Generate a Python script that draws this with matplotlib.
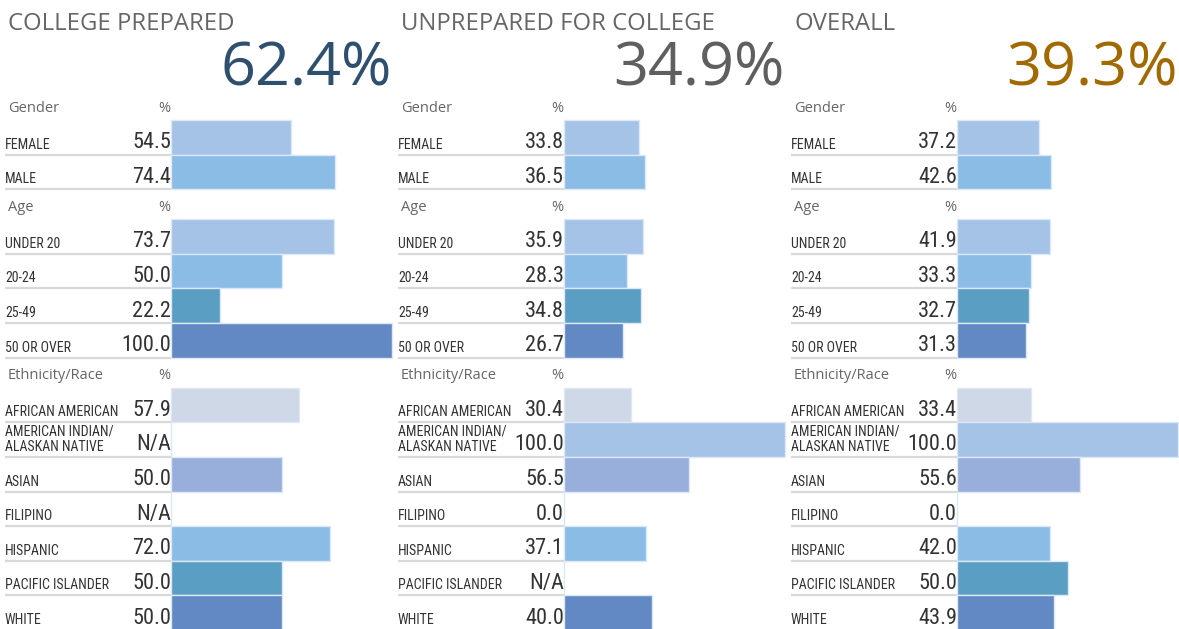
import matplotlib
matplotlib.use('Agg')
import matplotlib.pyplot as plt
from matplotlib import font_manager
from matplotlib.font_manager import FontProperties

W, H = 1179, 629
DPI = 100

# ---- data ----
panel_titles = ['COLLEGE PREPARED', 'UNPREPARED FOR COLLEGE', 'OVERALL']
panel_totals = ['62.4%', '34.9%', '39.3%']
total_colors = ['#2F4F6F', '#5F5F5F', '#A06A00']

gender_labels = ['FEMALE', 'MALE']
age_labels = ['UNDER 20', '20-24', '25-49', '50 OR OVER']
eth_labels = ['AFRICAN AMERICAN', 'AMERICAN INDIAN/\nALASKAN NATIVE', 'ASIAN',
              'FILIPINO', 'HISPANIC', 'PACIFIC ISLANDER', 'WHITE']

# None = N/A
prepared_gender = [54.5, 74.4]
prepared_age = [73.7, 50.0, 22.2, 100.0]
prepared_eth = [57.9, None, 50.0, None, 72.0, 50.0, 50.0]

unprepared_gender = [33.8, 36.5]
unprepared_age = [35.9, 28.3, 34.8, 26.7]
unprepared_eth = [30.4, 100.0, 56.5, 0.0, 37.1, None, 40.0]

overall_gender = [37.2, 42.6]
overall_age = [41.9, 33.3, 32.7, 31.3]
overall_eth = [33.4, 100.0, 55.6, 0.0, 42.0, 50.0, 43.9]

gender_colors = ['#A4C3E6', '#8BBCE5']
age_colors = ['#A4C3E6', '#8BBCE5', '#5B9EC3', '#6389C5']
eth_colors = ['#CFD8E6', '#A4C3E6', '#97AFDA', '#A4C3E6', '#8BBCE5', '#5B9EC3', '#6389C5']

panels = [
    (prepared_gender, prepared_age, prepared_eth),
    (unprepared_gender, unprepared_age, unprepared_eth),
    (overall_gender, overall_age, overall_eth),
]

# ---- fonts: look for a condensed sans for the row labels ----
def find_narrow():
    cond = ('condensed', 'semi-condensed', 'extra-condensed', 'ultra-condensed')
    prefs = ['Liberation Sans Narrow', 'Roboto Condensed', 'Open Sans Condensed',
             'Noto Sans', 'DejaVu Sans', 'Roboto', 'Open Sans']
    fonts = font_manager.fontManager.ttflist
    for name in prefs:
        for f in fonts:
            if f.style != 'normal' or f.weight not in (400, 'normal', 'regular'):
                continue
            if f.name == name and ('Narrow' in name or 'Condensed' in name):
                return FontProperties(fname=f.fname), True
            if f.name.startswith(name) and (f.stretch in cond or 'Condensed' in f.name
                                            or 'Condensed' in f.fname):
                if 'Bold' in f.fname or 'Light' in f.fname or 'Medium' in f.fname \
                        or 'Semi' in f.fname or 'Thin' in f.fname or 'Black' in f.fname:
                    continue
                return FontProperties(fname=f.fname), True
    return FontProperties(family='DejaVu Sans'), False

NARROW_FP, is_narrow = find_narrow()
MAIN = ['Open Sans', 'DejaVu Sans']
lab_size = 10 if is_narrow else 8.5
val_size = 16 if is_narrow else 14

# ---- layout (pixels) ----
col_x = [5, 398, 791]
bar_off = 166
bar_len = 221
top = 90
head_h = 30
row_h = 34.62

sections = [('Gender', gender_labels, gender_colors),
            ('Age', age_labels, age_colors),
            ('Ethnicity/Race', eth_labels, eth_colors)]

fig = plt.figure(figsize=(W / DPI, H / DPI), dpi=DPI)
fig.patch.set_facecolor('white')
txt = fig.add_axes([0, 0, 1, 1])
txt.set_xlim(0, W)
txt.set_ylim(H, 0)
txt.axis('off')

for p, (x0, data) in enumerate(zip(col_x, panels)):
    # bar axes: x in percent, y in pixels
    bx = x0 + bar_off
    bax = fig.add_axes([bx / W, 0, bar_len / W, 1])
    bax.set_xlim(0, 100)
    bax.set_ylim(H, 0)
    bax.axis('off')

    txt.text(x0 + 3, 24, panel_titles[p], fontsize=17.2, color='#666666',
             family=MAIN, va='center', ha='left')
    txt.text(x0 + 387, 69, panel_totals[p], fontsize=44, color=total_colors[p],
             family=MAIN, va='center', ha='right')

    y = top
    for (head, labels, colors), vals in zip(sections, data):
        txt.text(x0 + 3, y + head_h / 2 + 3, head, fontsize=10.5, color='#666666',
                 family=MAIN, va='center', ha='left')
        txt.text(x0 + 165, y + head_h / 2 + 3, '%', fontsize=10.5, color='#666666',
                 family=MAIN, va='center', ha='right')
        y += head_h
        for lab, v, c in zip(labels, vals, colors):
            bottom = y + row_h
            bax.barh(y + row_h / 2, 0 if v is None else v, height=row_h,
                     color=c, edgecolor='#DCE8F5', linewidth=1.0, clip_on=False)
            txt.plot([x0, x0 + bar_off], [bottom, bottom], color='#D9D9D9', lw=1.6,
                     solid_capstyle='butt')
            txt.text(x0, bottom - 3, lab, fontproperties=NARROW_FP, fontsize=lab_size,
                     color='#333333', va='bottom', ha='left', linespacing=1.1)
            txt.text(x0 + bar_off, bottom - 1.5, 'N/A' if v is None else f'{v:.1f}',
                     fontproperties=NARROW_FP, fontsize=val_size, color='#333333',
                     va='bottom', ha='right')
            y = bottom

fig.savefig('out.png', dpi=DPI, facecolor='white')
